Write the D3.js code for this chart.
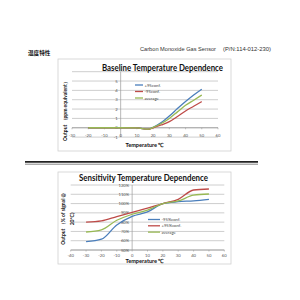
<!DOCTYPE html>
<html><head><meta charset="utf-8">
<script src="https://cdn.jsdelivr.net/npm/d3@7"></script>
<style>html,body{margin:0;padding:0;background:#fff;}svg{display:block;}</style>
</head><body>
<script>
// ---- data ----
const topTemps = [-20, -10, 0, 10, 17, 20, 25, 30, 35, 40, 45, 50];
const topPlus95 = [0, 0, 0, -0.02, -0.15, 0.05, 0.55, 1.25, 2.05, 2.8, 3.5, 4.13];
const topMinus95 = [0, 0, 0, -0.02, -0.15, 0.0, 0.3, 0.65, 1.2, 1.8, 2.3, 2.8];
const topAverage = [0, 0, 0, -0.02, -0.15, 0.03, 0.45, 1.0, 1.7, 2.4, 2.95, 3.5];
const topXTicks = [-30, -20, -10, 0, 10, 20, 30, 40, 50, 60];
const topYTicks = [-1, 0, 1, 2, 3, 4, 5, 6];
const topYLabels = [-1, 0, 1, 2, 3, 4, 5];   // "6" is hidden behind the title in the original
const topSeriesNames = ["+95conf.", "-95conf.", "average"];

const botTemps = [-30, -20, -10, 0, 10, 20, 30, 40, 50];
const botMinus95 = [59, 61.6, 77, 86.3, 91, 100, 102, 103, 104.6];
const botPlus95 = [80, 81.3, 86, 90.6, 95, 100, 104.6, 114.6, 115.7];
const botAverage = [69.4, 71.6, 82, 88.5, 93, 100, 102.8, 109, 110.3];
const botXTicks = [-40, -30, -20, -10, 0, 10, 20, 30, 40, 50, 60];
const botYTicks = [50, 60, 70, 80, 90, 100, 110, 120];
const botSeriesNames = ["-95%conf.", "+95%conf.", "average"];

const colors = ["#4a7ebb", "#be4b48", "#98b954"];

const svg = d3.select("body").append("svg").attr("width", 300).attr("height", 300);

// header
svg.append("text").attr("x", 28).attr("y", 54.5).attr("font-family", "Noto Sans CJK SC")
  .attr("font-weight", "bold").attr("font-size", 5.6).attr("fill", "#111").text("温度特性");
svg.append("text").attr("x", 140).attr("y", 50.5).attr("font-family", "Liberation Sans")
  .attr("font-size", 5.6).attr("fill", "#333")
  .attr("textLength", 76).attr("lengthAdjust", "spacingAndGlyphs").text("Carbon Monoxide Gas Sensor");
svg.append("text").attr("x", 223).attr("y", 50.5).attr("font-family", "Liberation Sans")
  .attr("font-size", 5.6).attr("fill", "#333")
  .attr("textLength", 48).attr("lengthAdjust", "spacingAndGlyphs").text("(P/N:114-012-230)");

// separator
svg.append("line").attr("x1", 25).attr("x2", 258).attr("y1", 161.8).attr("y2", 161.8)
  .attr("stroke", "#222").attr("stroke-width", 1.8);
svg.append("line").attr("x1", 25).attr("x2", 258).attr("y1", 164.2).attr("y2", 164.2)
  .attr("stroke", "#555").attr("stroke-width", 0.7);

const fontChart = "Lato, 'Open Sans', sans-serif";

function drawChart(cfg) {
  const g = svg.append("g");
  g.append("rect").attr("x", cfg.frame[0]).attr("y", cfg.frame[1])
    .attr("width", cfg.frame[2]).attr("height", cfg.frame[3])
    .attr("fill", "#fff").attr("stroke", "#d0d0d0").attr("stroke-width", 0.8);
  const x = d3.scaleLinear().domain(cfg.xDomain).range(cfg.xRange);
  const y = d3.scaleLinear().domain(cfg.yDomain).range(cfg.yRange);
  // gridlines
  g.selectAll(".grid").data(cfg.yTicks).join("line")
    .attr("x1", cfg.xRange[0]).attr("x2", cfg.xRange[1])
    .attr("y1", d => y(d)).attr("y2", d => y(d))
    .attr("stroke", "#c8c8c8").attr("stroke-width", 0.9);
  // y axis line at x=0
  g.append("line").attr("x1", x(0)).attr("x2", x(0))
    .attr("y1", cfg.yRange[1]).attr("y2", cfg.yRange[0])
    .attr("stroke", "#9a9a9a").attr("stroke-width", 0.7);
  // x axis line
  g.append("line").attr("x1", cfg.xRange[0]).attr("x2", cfg.xRange[1])
    .attr("y1", y(cfg.xAxisAt)).attr("y2", y(cfg.xAxisAt))
    .attr("stroke", "#9a9a9a").attr("stroke-width", 0.8);
  // x tick marks
  g.selectAll(".xt").data(cfg.xTicks).join("line")
    .attr("x1", d => x(d)).attr("x2", d => x(d))
    .attr("y1", y(cfg.xAxisAt)).attr("y2", y(cfg.xAxisAt) + 1.5)
    .attr("stroke", "#9a9a9a").attr("stroke-width", 0.6);
  // y tick labels
  g.selectAll(".yl").data(cfg.yLabels).join("text")
    .attr("x", x(0) - 3).attr("y", d => y(d) + 1.5)
    .attr("text-anchor", "end").attr("font-family", fontChart)
    .attr("font-size", 4.2).attr("fill", "#555").text(cfg.yFmt);
  // x tick labels
  g.selectAll(".xl").data(cfg.xTicks).join("text")
    .attr("x", d => x(d)).attr("y", cfg.xLabelY)
    .attr("text-anchor", "middle").attr("font-family", fontChart)
    .attr("font-size", 4.2).attr("fill", "#555").text(d => d);
  // lines
  const line = d3.line().x(d => x(d[0])).y(d => y(d[1])).curve(d3.curveMonotoneX);
  cfg.series.forEach((s, i) => {
    g.append("path").datum(cfg.temps.map((t, j) => [t, s[j]]))
      .attr("d", line).attr("fill", "none").attr("stroke", colors[i]).attr("stroke-width", 1.3);
  });
  // legend
  cfg.names.forEach((n, i) => {
    const ly = cfg.legend[1] + i * cfg.legend[2];
    g.append("line").attr("x1", cfg.legend[0]).attr("x2", cfg.legend[0] + cfg.legend[3])
      .attr("y1", ly).attr("y2", ly).attr("stroke", colors[i]).attr("stroke-width", 1.3);
    g.append("text").attr("x", cfg.legend[0] + cfg.legend[3] + 1.5).attr("y", ly + 1.5)
      .attr("font-family", fontChart).attr("font-size", 4.2).attr("fill", "#444").text(n);
  });
  // title
  g.append("text").attr("x", cfg.title[1]).attr("y", cfg.title[2]).attr("text-anchor", "middle")
    .attr("font-family", fontChart).attr("font-weight", "bold").attr("font-size", 8.6)
    .attr("textLength", cfg.title[3]).attr("lengthAdjust", "spacingAndGlyphs")
    .attr("fill", "#111").text(cfg.title[0]);
  // x axis title
  g.append("text").attr("x", cfg.xTitle[0]).attr("y", cfg.xTitle[1]).attr("text-anchor", "middle")
    .attr("font-family", fontChart).attr("font-weight", "bold").attr("font-size", 5.6)
    .attr("fill", "#111").text("Temperature ℃");
  // y axis title lines
  cfg.yTitle.forEach(t => {
    g.append("text").attr("transform", `translate(${t[1]},${t[2]}) rotate(-90)`)
      .attr("text-anchor", "middle").attr("font-family", fontChart).attr("font-weight", "bold")
      .attr("font-size", 5).attr("fill", "#111").text(t[0]);
  });
}

drawChart({
  frame: [58, 59, 173, 92],
  xDomain: [-30, 60], xRange: [72, 218],
  yDomain: [-1, 6], yRange: [137.1, 71.7],
  xTicks: topXTicks, yTicks: topYTicks, yLabels: topYLabels, xAxisAt: 0, xLabelY: 136.5,
  yFmt: d => d,
  temps: topTemps, series: [topPlus95, topMinus95, topAverage], names: topSeriesNames,
  legend: [135, 85, 6.5, 8],
  title: ["Baseline Temperature Dependence", 162.5, 71, 121],
  xTitle: [145, 146.5],
  yTitle: [["Output （ppm equivalent）", 67, 110]]
});

drawChart({
  frame: [58, 172, 173, 92],
  xDomain: [-40, 60], xRange: [70.7, 224.3],
  yDomain: [50, 120], yRange: [250, 185],
  xTicks: botXTicks, yTicks: botYTicks, yLabels: botYTicks, xAxisAt: 50, xLabelY: 256.5,
  yFmt: d => d + "%",
  temps: botTemps, series: [botMinus95, botPlus95, botAverage], names: botSeriesNames,
  legend: [148, 219.5, 6.3, 12],
  title: ["Sensitivity Temperature Dependence", 143.5, 180.8, 129],
  xTitle: [145, 263],
  yTitle: [["Output （% of signal @", 65, 219], ["20°C)", 74, 219]]
});
</script>
</body></html>
